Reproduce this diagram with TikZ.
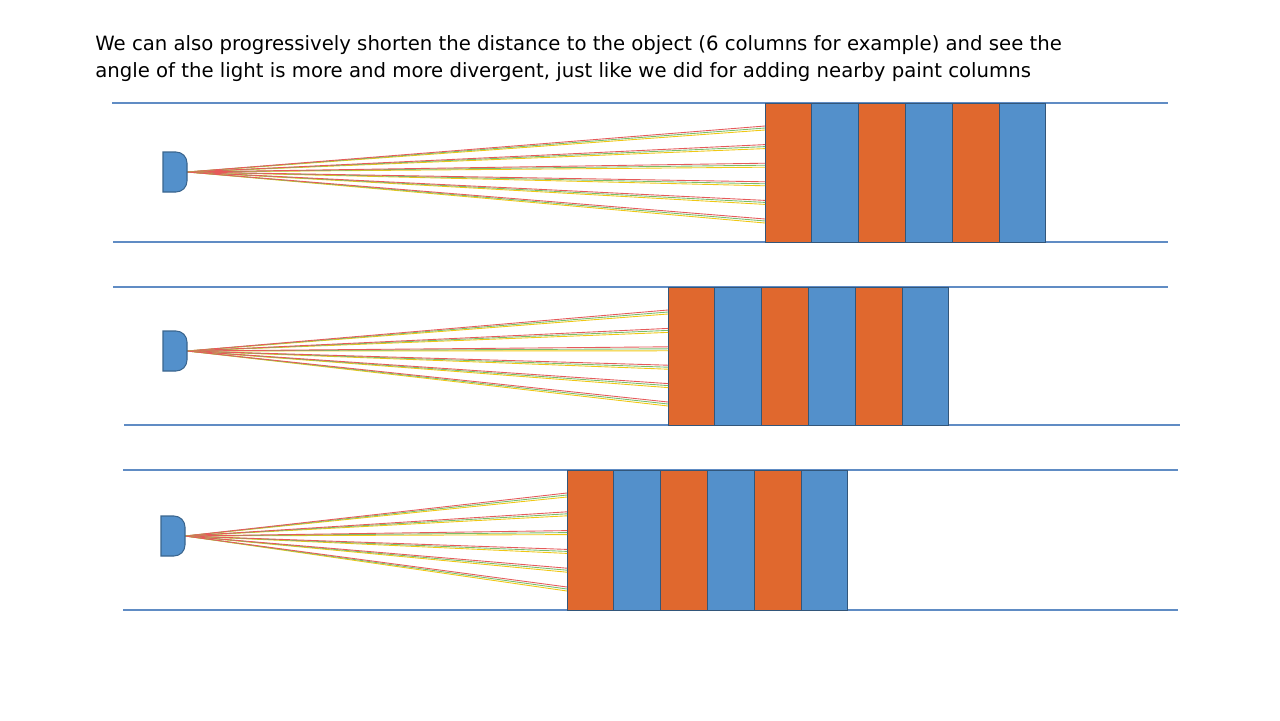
\documentclass[tikz,border=0pt]{standalone}
\usepackage{fontspec}
\setmainfont{DejaVu Sans}
\definecolor{paintblue}{RGB}{83,144,203}
\definecolor{paintorange}{RGB}{224,104,46}
\definecolor{lineblue}{RGB}{96,140,196}
\definecolor{raygreen}{RGB}{120,190,110}
\definecolor{rayyellow}{RGB}{240,200,20}
\definecolor{rayred}{RGB}{230,90,90}
\tikzset{
  wall/.style={draw=lineblue, line width=1.4pt},
  source/.style={fill=paintblue, draw=paintblue!70!black, line width=0.6pt},
  ray/.style={line width=0.5pt},
}
% panel: top, bottom, top line x-range, bottom line x-range, source x, source y, column x
\newcommand{\lightpanel}[9]{
  \draw[wall] (#3,#1) -- (#4,#1);
  \draw[wall] (#5,#2) -- (#6,#2);
  \foreach \i/\c in {0/paintorange,1/paintblue,2/paintorange,3/paintblue,4/paintorange,5/paintblue}
    \draw[fill=\c, draw=paintblue!60!black, line width=0.4pt] (#9+\i*46.8,#1) rectangle (#9+\i*46.8+46.8,#2);
  \foreach \k in {0,...,5}{
    \pgfmathsetmacro{\ty}{#1+24+\k*(#2-#1-46)/5}
    \draw[ray, rayyellow] (#7+24,#8) -- (#9,\ty+3);
    \draw[ray, raygreen] (#7+24,#8) -- (#9,\ty+1);
    \draw[ray, rayred] (#7+24,#8) -- (#9,\ty-1);
  }
  \draw[source] (#7,#8-20) [rounded corners=0.22cm]-- (#7+24,#8-20) -- (#7+24,#8+20) [sharp corners]-- (#7,#8+20) -- cycle;
}
\begin{document}
\begin{tikzpicture}[x=0.02cm,y=-0.02cm]
\useasboundingbox (0,0) rectangle (1280,720);
\node[anchor=west, align=left, font=\fontsize{11.2}{15.4}\selectfont, inner sep=0] (caption) at (95,59)
  {We can also progressively shorten the distance to the object (6 columns for example) and see the\\
   angle of the light is more and more divergent, just like we did for adding nearby paint columns};
\lightpanel{103}{242}{112}{1168}{113}{1168}{163}{172}{765}
\lightpanel{287}{425}{113}{1168}{124}{1180}{163}{351}{668}
\lightpanel{470}{610}{123}{1178}{123}{1178}{161}{536}{567}
\end{tikzpicture}
\end{document}
